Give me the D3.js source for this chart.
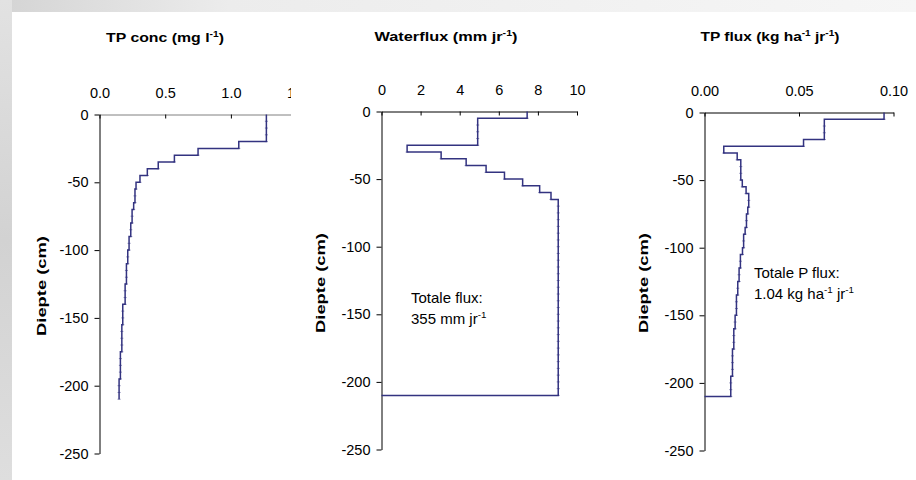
<!DOCTYPE html>
<html>
<head>
<meta charset="utf-8">
<script src="https://cdn.jsdelivr.net/npm/d3@7"></script>
<style>
  body { margin: 0; background: #fff; }
  svg { display: block; }
  text { font-family: "Liberation Sans", Arial, sans-serif; }
</style>
</head>
<body>
<script>
// layer boundaries (cm), one value per 5 cm layer
const depths = [0, -5, -10, -15, -20, -25, -30, -35, -40, -45, -50, -55, -60, -65, -70,
  -75, -80, -85, -90, -95, -100, -105, -110, -115, -120, -125, -130, -135, -140, -145,
  -150, -155, -160, -165, -170, -175, -180, -185, -190, -195, -200, -205, -210];

// TP concentration (mg/l)
const tpConc = [1.27, 1.27, 1.27, 1.27, 1.06, 0.75, 0.57, 0.447, 0.364, 0.308,
  0.278, 0.27, 0.27, 0.26, 0.248, 0.248, 0.238, 0.238, 0.225, 0.225,
  0.215, 0.215, 0.205, 0.205, 0.205, 0.195, 0.195, 0.195, 0.177, 0.177,
  0.177, 0.17, 0.17, 0.17, 0.17, 0.159, 0.159, 0.159, 0.159, 0.149, 0.149, 0.149];

// waterflux (mm/jr)
const waterflux = [7.45, 4.92, 4.92, 4.92, 4.92, 1.31, 3.05, 4.33, 5.35, 6.29,
  7.22, 8.09, 8.67, 9.04, 9.04, 9.04, 9.04, 9.04, 9.04, 9.04,
  9.04, 9.04, 9.04, 9.04, 9.04, 9.04, 9.04, 9.04, 9.04, 9.04,
  9.04, 9.04, 9.04, 9.04, 9.04, 9.04, 9.04, 9.04, 9.04, 9.04, 9.04, 9.04];

// TP flux (kg/ha/jr)
const tpFlux = [0.095, 0.0634, 0.0634, 0.0634, 0.0524, 0.0102, 0.0173, 0.0192, 0.0192, 0.0192,
  0.0200, 0.0220, 0.0234, 0.0234, 0.0229, 0.0222, 0.0222, 0.0215, 0.0207, 0.0207,
  0.0201, 0.0190, 0.0190, 0.0183, 0.0183, 0.0176, 0.0176, 0.0169, 0.0169, 0.0169,
  0.0162, 0.0162, 0.0155, 0.0155, 0.0155, 0.0148, 0.0148, 0.0148, 0.0148, 0.0139, 0.0139, 0.0139];

const depthTicks = [0, -50, -100, -150, -200, -250];
const concTicks = [0, 0.5, 1.0, 1.5];
const waterTicks = [0, 2, 4, 6, 8, 10];
const fluxTicks = [0, 0.05, 0.10];

var svgWidth = 916, svgHeight = 480;
const lineColor = "#333380";

var svg = d3.select("body").append("svg")
  .attr("width", svgWidth)
  .attr("height", svgHeight);

// background: grey texture strip on left / top, white sheet
var defs = svg.append("defs");
var grad = defs.append("linearGradient").attr("id", "bgGrad")
  .attr("x1", 0).attr("x2", 1).attr("y1", 0).attr("y2", 0);
grad.append("stop").attr("offset", "0%").attr("stop-color", "#d4d4d4");
grad.append("stop").attr("offset", "25%").attr("stop-color", "#ececec");
grad.append("stop").attr("offset", "100%").attr("stop-color", "#f6f6f6");
var vgrad = defs.append("linearGradient").attr("id", "sideGrad")
  .attr("x1", 0).attr("x2", 0).attr("y1", 0).attr("y2", 1);
vgrad.append("stop").attr("offset", "0%").attr("stop-color", "#e2e2e2");
vgrad.append("stop").attr("offset", "50%").attr("stop-color", "#d2d2d2");
vgrad.append("stop").attr("offset", "100%").attr("stop-color", "#dedede");
svg.append("rect").attr("width", svgWidth).attr("height", svgHeight).attr("fill", "url(#bgGrad)");
svg.append("rect").attr("x", 0).attr("y", 0).attr("width", 12).attr("height", svgHeight)
  .attr("fill", "url(#sideGrad)");
svg.append("rect").attr("x", 12).attr("y", 12).attr("width", svgWidth - 12).attr("height", svgHeight - 12)
  .attr("fill", "#ffffff");

defs.append("clipPath").attr("id", "clip1")
  .append("rect").attr("x", 12).attr("y", 12).attr("width", 279).attr("height", 468);

// text made of parts, some superscript
function richText(parent, parts, size, weight) {
  var t = parent.append("text")
    .attr("font-size", size)
    .attr("font-weight", weight)
    .attr("fill", "#000");
  var up = false;
  parts.forEach(function(p) {
    var sup = p.charAt(0) === "^";
    var s = sup ? p.slice(1) : p;
    var ts = t.append("tspan").text(s);
    if (sup && !up) ts.attr("dy", -size * 0.38).attr("font-size", size * 0.65);
    else if (sup) ts.attr("font-size", size * 0.65);
    else if (up) ts.attr("dy", size * 0.38);
    up = sup;
  });
  return t;
}

// title / label stretched to the width seen in the picture
function fittedLabel(parts, cx, cy, width, size, rotate) {
  var g = svg.append("g");
  var t = richText(g, parts, size, "bold").attr("text-anchor", "middle");
  var w = t.node().getBBox().width;
  var k = width / w;
  g.attr("transform", `translate(${cx},${cy})` + (rotate ? " rotate(-90)" : "") + ` scale(${k},1)`);
  return g;
}

function stepPoints(values, closeToZero) {
  var pts = [];
  values.forEach(function(v, i) {
    pts.push([v, depths[i]]);
    pts.push([v, depths[i + 1]]);
  });
  if (closeToZero) pts.push([0, depths[depths.length - 1]]);
  return pts;
}

function drawPanel(p) {
  var g = svg.append("g");
  if (p.clip) g.attr("clip-path", "url(#clip1)");

  var x = d3.scaleLinear().domain(p.xDomain).range(p.xRange);
  var y = d3.scaleLinear().domain([0, -250]).range(p.yRange);

  // x-axis on top, ticks pointing down
  var xAxis = g.append("g")
    .attr("transform", `translate(0,${p.yRange[0]})`)
    .call(d3.axisTop(x).tickValues(p.xTicks).tickFormat(d3.format(p.xFmt))
      .tickSizeInner(-4).tickSizeOuter(0).tickPadding(17));
  xAxis.attr("font-size", 14.5).attr("font-family", null);
  xAxis.select(".domain").attr("stroke", p.xAxisColor);

  var yAxis = g.append("g")
    .attr("transform", `translate(${p.xRange[0]},0)`)
    .call(d3.axisLeft(y).tickValues(depthTicks).tickFormat(d => String(d))
      .tickSizeInner(5).tickSizeOuter(0).tickPadding(6));
  yAxis.attr("font-size", 14.5).attr("font-family", null);

  var line = d3.line().x(d => x(d[0])).y(d => y(d[1]));
  g.append("path")
    .datum(stepPoints(p.values, p.close))
    .attr("d", line)
    .attr("fill", "none")
    .attr("stroke", lineColor)
    .attr("stroke-width", 1.5);

  // small dash markers at the data points
  g.selectAll(".mark")
    .data(p.values)
    .enter()
    .append("line")
      .attr("x1", d => x(d) - 1.5)
      .attr("x2", d => x(d) + 1.5)
      .attr("y1", (d, i) => y(depths[i + 1]))
      .attr("y2", (d, i) => y(depths[i + 1]))
      .attr("stroke", lineColor)
      .attr("stroke-opacity", 0.7)
      .attr("stroke-width", 0.8);

  if (p.note) {
    p.note.forEach(function(parts, i) {
      richText(g, parts, 15, "normal")
        .attr("x", p.noteX)
        .attr("y", p.noteY + i * 21);
    });
  }
}

drawPanel({
  values: tpConc, xDomain: [0, 1.5], xRange: [99.5, 296.6], yRange: [114.5, 453.5],
  xTicks: concTicks, xFmt: ".1f", xAxisColor: "#808080", close: false, clip: true
});
drawPanel({
  values: waterflux, xDomain: [0, 10], xRange: [381.5, 577], yRange: [111.5, 449.5],
  xTicks: waterTicks, xFmt: "d", xAxisColor: "#000", close: true,
  note: [["Totale flux:"], ["355 mm jr", "^-1"]], noteX: 411, noteY: 303
});
drawPanel({
  values: tpFlux, xDomain: [0, 0.1], xRange: [704.5, 893.5], yRange: [112.5, 450.5],
  xTicks: fluxTicks, xFmt: ".2f", xAxisColor: "#000", close: true,
  note: [["Totale P flux:"], ["1.04 kg ha", "^-1", " jr", "^-1"]], noteX: 754, noteY: 278
});

// titles
fittedLabel(["TP conc (mg l", "^-1", ")"], 165, 42, 118, 13.5, false);
fittedLabel(["Waterflux (mm jr", "^-1", ")"], 446, 41, 143, 13.5, false);
fittedLabel(["TP flux (kg ha", "^-1", " jr", "^-1", ")"], 770, 41, 139, 13.5, false);

// depth axis titles
fittedLabel(["Diepte (cm)"], 46, 286, 100, 12.5, true);
fittedLabel(["Diepte (cm)"], 325, 283, 100, 12.5, true);
fittedLabel(["Diepte (cm)"], 648, 283, 100, 12.5, true);
</script>
</body>
</html>
